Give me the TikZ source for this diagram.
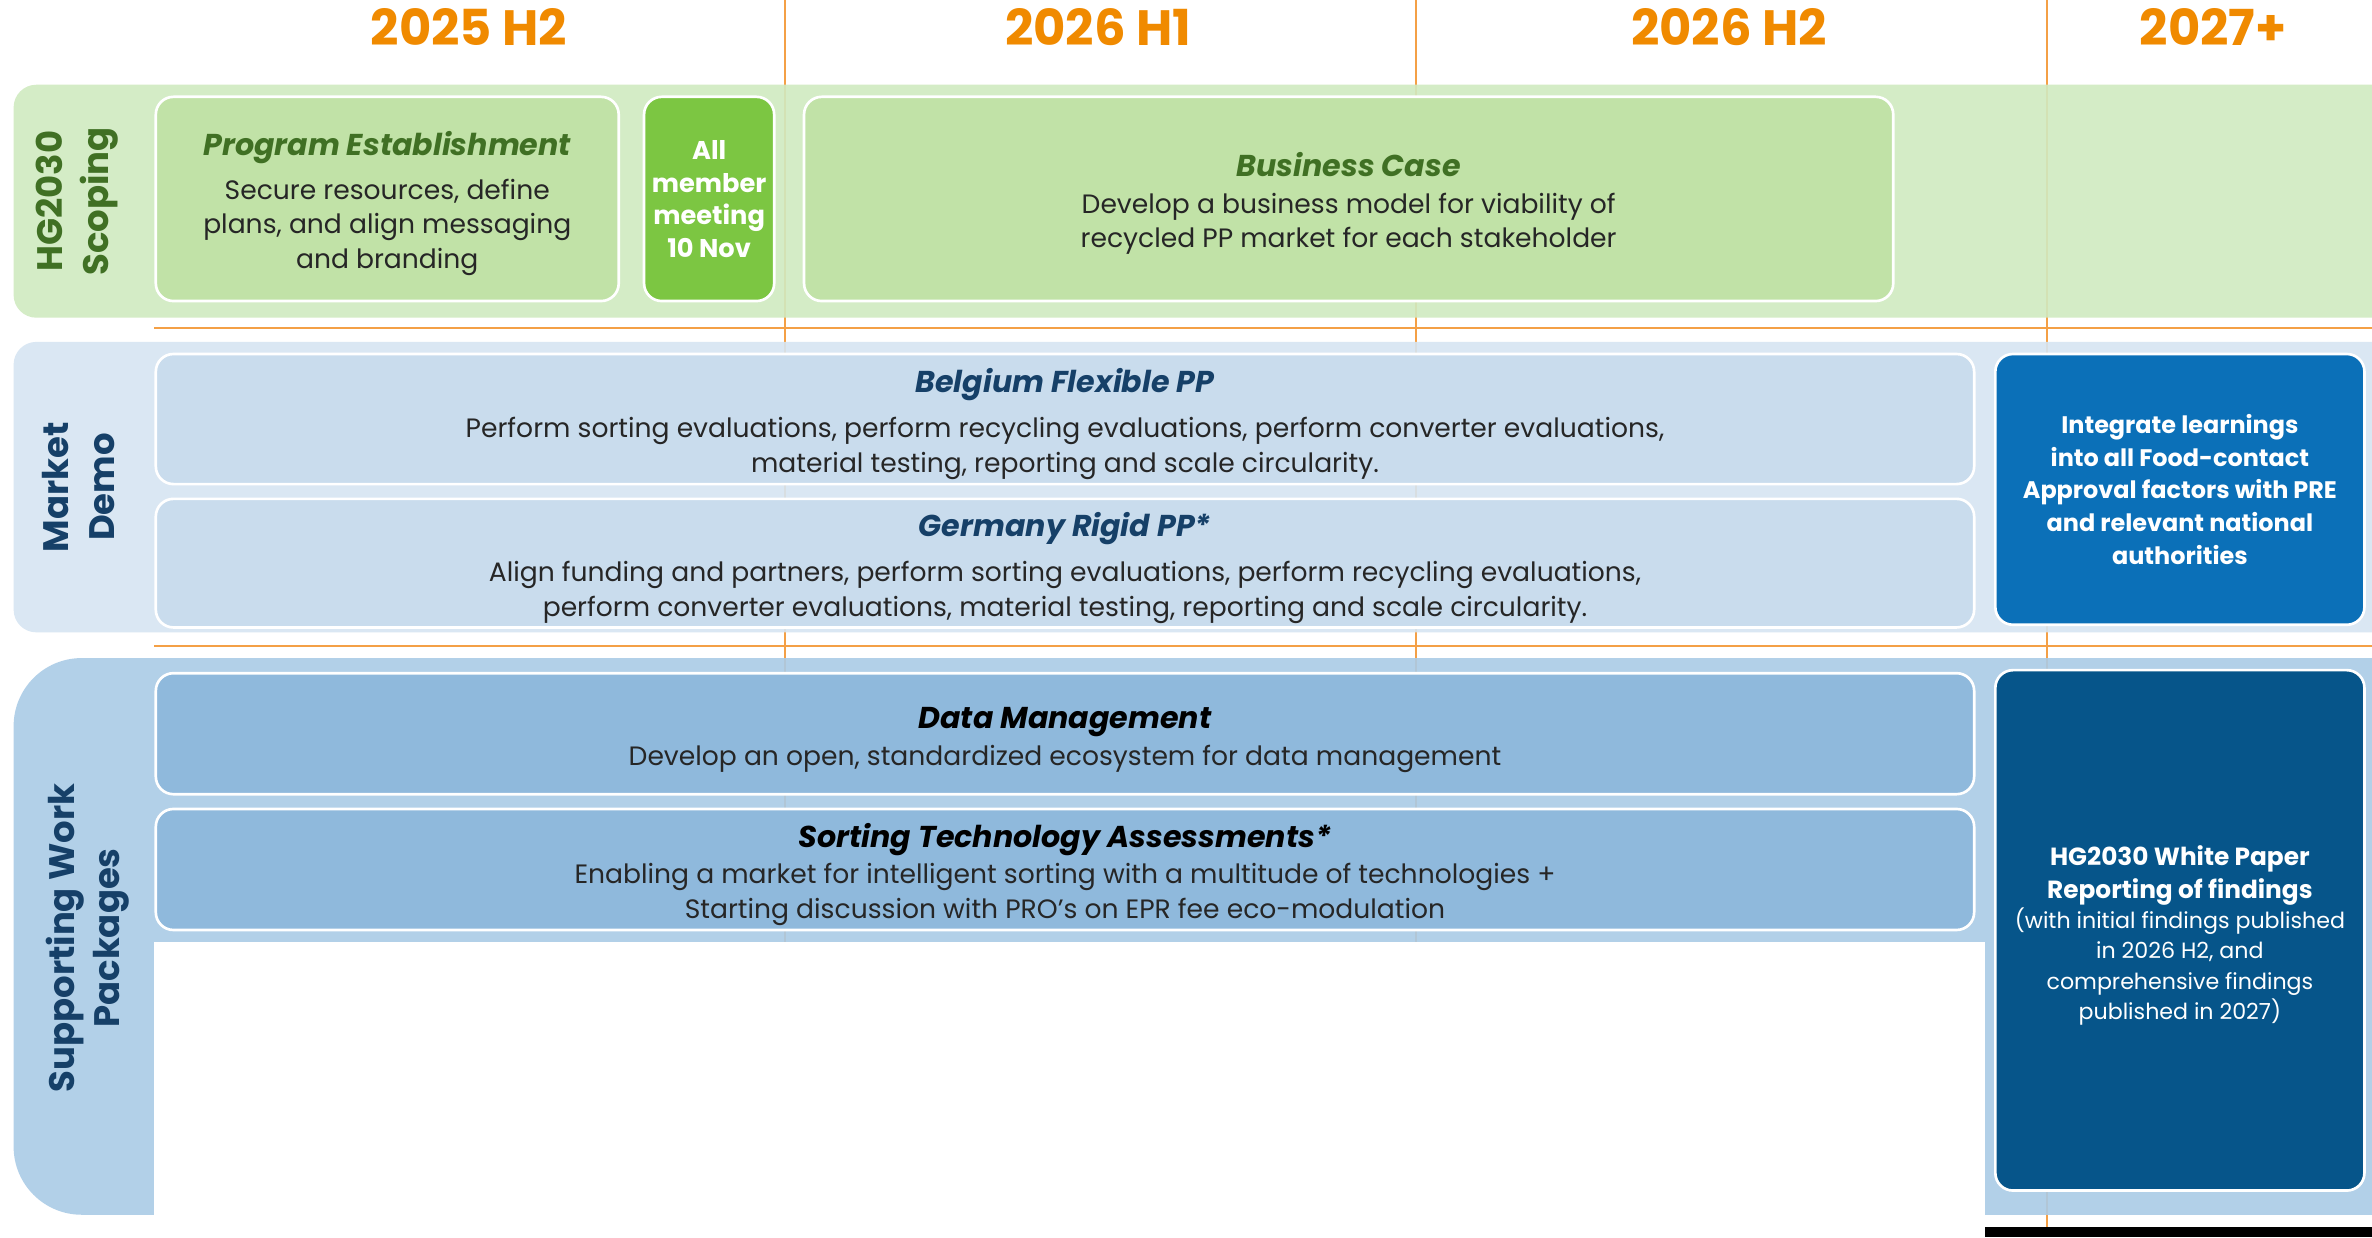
\documentclass[tikz,border=0pt]{standalone}
\usepackage{fontspec}
\setmainfont{Poppins}
\usepackage{tikz}
\usetikzlibrary{positioning}

\definecolor{hdorange}{RGB}{240,138,0}
\definecolor{gridorange}{RGB}{244,160,70}
\definecolor{scopeband}{RGB}{208,234,192}
\definecolor{scopebox}{RGB}{193,226,167}
\definecolor{scopemeet}{RGB}{124,198,66}
\definecolor{scopetxt}{RGB}{64,112,36}
\definecolor{demoband}{RGB}{214,229,242}
\definecolor{demobox}{RGB}{201,220,237}
\definecolor{demodark}{RGB}{11,112,184}
\definecolor{demotxt}{RGB}{22,64,104}
\definecolor{suppband}{RGB}{170,203,230}
\definecolor{suppbox}{RGB}{143,185,220}
\definecolor{suppdark}{RGB}{6,85,138}
\definecolor{bodytxt}{RGB}{38,38,38}

\newcommand{\boxhead}[1]{{\fontsize{17}{20}\selectfont\bfseries\itshape\rule{0pt}{19pt}#1}}

\begin{document}
\begin{tikzpicture}[x=0.3mm, y=-0.3mm,
		year/.style={text=hdorange, font=\fontsize{28}{30}\selectfont\bfseries},
		rowlabel/.style={rotate=90, align=center, font=\fontsize{20}{25.6}\selectfont\bfseries},
		box/.style={draw=white, line width=1.5pt, rounded corners=3.5mm, align=center, inner sep=0pt, text=bodytxt, font=\fontsize{15}{19.6}\selectfont},
		darkbox/.style={box, text=white, font=\fontsize{13.5}{18.4}\selectfont\bfseries}]
		\clip (0,0) rectangle (1568,818);
		\fill[white] (0,0) rectangle (1568,818);
		
		\foreach \x in {519,936,1353}
			\draw[gridorange, line width=1.2pt] (\x,0) -- (\x,818);
		
		\node[year] (h25) at (310,18) {2025 H2};
		\node[year] (h26a) at (726,18) {2026 H1};
		\node[year] (h26b) at (1143,18) {2026 H2};
		\node[year] (h27) at (1463,18) {2027+};
		
		\fill[scopeband, fill opacity=0.9, rounded corners=4.5mm] (9,56) rectangle (1620,210);
		\fill[demoband, fill opacity=0.9, rounded corners=4.5mm] (9,226) rectangle (1620,418);
		\fill[suppband, fill opacity=0.9, rounded corners=13.5mm] (9,435) rectangle (1620,803);
		\draw[gridorange, line width=1.2pt] (102,217) -- (1568,217);
		\draw[gridorange, line width=1.2pt] (102,427) -- (1568,427);
		
		\node[rowlabel, text=scopetxt] (lscope) at (51,133) {HG2030\\Scoping};
		\node[rowlabel, text=demotxt] (ldemo) at (52,322) {Market\\Demo};
		\node[rowlabel, text=demotxt] (lsupp) at (58,620) {Supporting Work\\Packages};
		
		\node[box, fill=scopebox, minimum width=91.8mm, minimum height=40.5mm] (prog) at (256,131.5) {\textcolor{scopetxt}{\boxhead{Program Establishment}}\\[5pt]Secure resources, define\\plans, and align messaging\\and branding};
		\node[darkbox, fill=scopemeet, minimum width=25.8mm, minimum height=40.5mm, font=\fontsize{14.5}{18.4}\selectfont\bfseries, right=4.5mm of prog] (allm) {All\\member\\meeting\\10 Nov};
		\node[box, fill=scopebox, minimum width=216mm, minimum height=40.5mm, right=5.4mm of allm] (biz) {\textcolor{scopetxt}{\boxhead{Business Case}}\\[1pt]Develop a business model for viability of\\recycled PP market for each stakeholder};
		
		\node[box, fill=demobox, minimum width=360.6mm, minimum height=25.8mm] (belg) at (704,277) {\textcolor{demotxt}{\boxhead{Belgium Flexible PP}}\\[6pt]Perform sorting evaluations, perform recycling evaluations, perform converter evaluations,\\material testing, reporting and scale circularity.};
		\node[box, fill=demobox, minimum width=360.6mm, minimum height=25.5mm, below=2.4mm of belg] (germ) {\textcolor{demotxt}{\boxhead{Germany Rigid PP*}}\\[6pt]Align funding and partners, perform sorting evaluations, perform recycling evaluations,\\perform converter evaluations, material testing, reporting and scale circularity.};
		\node[darkbox, fill=demodark, minimum width=73.2mm, minimum height=53.7mm] (integ) at (1441,323.5) {Integrate learnings\\into all Food-contact\\Approval factors with PRE\\and relevant national\\authorities};
		
		\node[box, fill=suppbox, minimum width=360.6mm, minimum height=24mm] (data) at (704,485) {\textcolor{black}{\boxhead{Data Management}}\\[1pt]Develop an open, standardized ecosystem for data management};
		\node[box, fill=suppbox, minimum width=360.6mm, minimum height=24mm, below=2.4mm of data] (sort) {\textcolor{black}{\boxhead{Sorting Technology Assessments*}}\\[1pt]Enabling a market for intelligent sorting with a multitude of technologies +\\Starting discussion with PRO's on EPR fee eco-modulation};
		\node[box, fill=suppbox, minimum width=360.6mm, minimum height=24mm, below=2.4mm of sort] (more) {};
		\node[darkbox, fill=suppdark, minimum width=73.2mm, minimum height=103.2mm, font=\fontsize{12.5}{17}\selectfont] (wp) at (1441,615) {{\fontsize{14}{17}\selectfont\bfseries\rule{0pt}{17pt}HG2030 White Paper}\\[1.5pt]{\fontsize{14}{17}\selectfont\bfseries Reporting of findings}\\(with initial findings published\\in 2026 H2, and\\comprehensive findings\\published in 2027)};
		
		\fill[white] (102,623) rectangle (1312,818);
		\fill[black] (1312,811) rectangle (1568,818);
	\end{tikzpicture}
\end{document}
